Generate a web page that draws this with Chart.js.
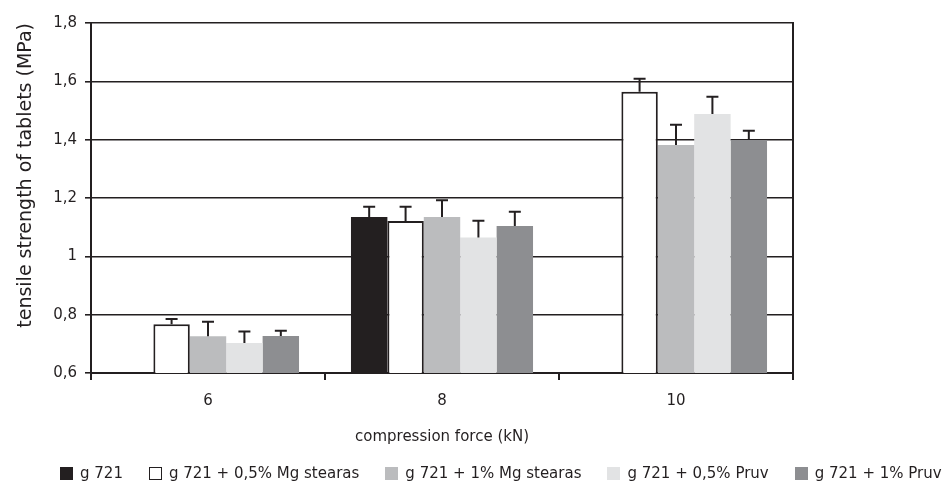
<!DOCTYPE html>
<html>
<head>
<meta charset="utf-8">
<script src="https://cdn.jsdelivr.net/npm/chart.js@4"></script>
<style>
  html, body { margin: 0; padding: 0; background: #fff; overflow: hidden; }
  #wrap { position: relative; width: 949px; height: 498px; }
  #legend { position: absolute; left: 0; top: 464px; display: flex; padding-left: 60px;
            font: 15px "DejaVu Sans"; color: #231f20; line-height: 18px; }
  .item { display: flex; align-items: center; margin-right: 26px; white-space: nowrap; }
  .box { width: 13px; height: 13px; margin-right: 7px; box-sizing: border-box; }
</style>
</head>
<body>
<div id="wrap">
  <canvas id="tabletChart"></canvas>
  <div id="legend"></div>
</div>
<script>
// data
const categories = ['6', '8', '10'];
const yTicks = [0.6, 0.8, 1, 1.2, 1.4, 1.6, 1.8];
const yTickLabels = ['0,6', '0,8', '1', '1,2', '1,4', '1,6', '1,8'];

const seriesNames = ['g 721', 'g 721 + 0,5% Mg stearas', 'g 721 + 1% Mg stearas', 'g 721 + 0,5% Pruv', 'g 721 + 1% Pruv'];

const g721 = [null, 1.135, null];
const g721Mg05 = [0.767, 1.121, 1.564];
const g721Mg1 = [0.726, 1.135, 1.382];
const g721Pruv05 = [0.703, 1.065, 1.488];
const g721Pruv1 = [0.727, 1.104, 1.399];

const errG721 = [null, 0.035, null];
const errMg05 = [0.018, 0.049, 0.045];
const errMg1 = [0.05, 0.057, 0.069];
const errPruv05 = [0.039, 0.057, 0.059];
const errPruv1 = [0.018, 0.049, 0.032];

const ink = '#231f20';
const font = 'DejaVu Sans';

const seriesValues = [g721, g721Mg05, g721Mg1, g721Pruv05, g721Pruv1];
const seriesErrors = [errG721, errMg05, errMg1, errPruv05, errPruv1];
const seriesColors = [ink, '#ffffff', '#bbbcbe', '#e2e3e4', '#8d8e91'];

const datasets = seriesNames.map((name, i) => ({
    label: name,
    data: seriesValues[i],
    errors: seriesErrors[i],
    backgroundColor: seriesColors[i],
    borderColor: ink,
    borderWidth: i === 1 ? 2 : 0,
    borderSkipped: 'bottom',
    categoryPercentage: 0.778,
    barPercentage: 1
}));

// upper error bars, placed with the chart's own y scale
const errorBars = {
    id: 'errorBars',
    afterDatasetsDraw(chart) {
        const ctx = chart.ctx;
        const yScale = chart.scales.y;
        chart.data.datasets.forEach((ds, di) => {
            const meta = chart.getDatasetMeta(di);
            meta.data.forEach((bar, i) => {
                const v = ds.data[i];
                const e = ds.errors[i];
                if (v == null || e == null) return;
                const yTop = yScale.getPixelForValue(v + e);
                ctx.save();
                ctx.strokeStyle = ink;
                ctx.lineWidth = 2;
                ctx.beginPath();
                ctx.moveTo(bar.x, bar.y);
                ctx.lineTo(bar.x, yTop);
                ctx.moveTo(bar.x - 6, yTop);
                ctx.lineTo(bar.x + 6, yTop);
                ctx.stroke();
                ctx.restore();
            });
        });
    }
};

const ctx = document.getElementById('tabletChart').getContext('2d');
const chart = new Chart(ctx, {
    type: 'bar',
    data: { labels: categories, datasets: datasets },
    plugins: [errorBars],
    options: {
        responsive: true,
        maintainAspectRatio: false,
        animation: false,
        layout: { padding: { left: 11, top: 23, right: 0, bottom: 45 } },
        plugins: {
            legend: { display: false },
            tooltip: { enabled: false }
        },
        scales: {
            x: {
                grid: { display: true, drawOnChartArea: false, drawTicks: true, tickLength: 7, color: ink, lineWidth: 2, offset: true },
                border: { display: true, color: ink, width: 2 },
                ticks: { color: ink, font: { family: font, size: 15 }, padding: 12 },
                title: { display: true, text: 'compression force (kN)', color: ink, font: { family: font, size: 15 }, padding: { top: 0, bottom: 7 } },
                afterFit: s => { s.height = 80; }
            },
            y: {
                min: 0.6,
                max: 1.8,
                afterBuildTicks: s => { s.ticks = yTicks.map(v => ({ value: v })); },
                grid: { color: ink, lineWidth: 1.6, tickLength: 6 },
                border: { display: true, color: ink, width: 2 },
                ticks: { color: ink, font: { family: font, size: 15 }, padding: 8, callback: (v, i) => yTickLabels[i] },
                title: { display: true, text: 'tensile strength of tablets (MPa)', align: 'end', color: ink, font: { family: font, size: 19 }, padding: { top: 4, bottom: 0 } },
                afterFit: s => { s.width = 80; }
            },
            y2: {
                position: 'right',
                display: true,
                grid: { display: false, drawTicks: false },
                ticks: { display: false },
                border: { display: true, color: ink, width: 2 },
                afterFit: s => { s.width = 156; }
            }
        }
    }
});

// legend built from the chart's datasets
const legendEl = document.getElementById('legend');
chart.data.datasets.forEach(ds => {
    const item = document.createElement('div');
    item.className = 'item';
    const box = document.createElement('span');
    box.className = 'box';
    box.style.background = ds.backgroundColor;
    if (ds.borderWidth) box.style.border = '1.5px solid ' + ink;
    const text = document.createElement('span');
    text.textContent = ds.label;
    item.appendChild(box);
    item.appendChild(text);
    legendEl.appendChild(item);
});
</script>
</body>
</html>
